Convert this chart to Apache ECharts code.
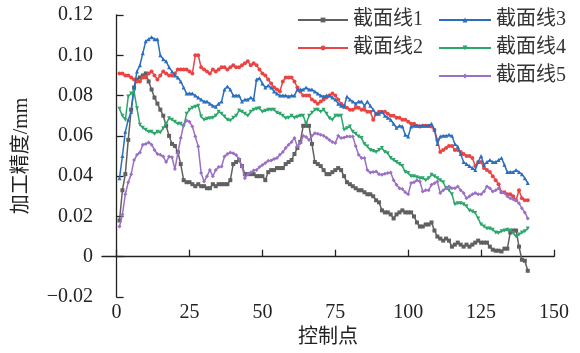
<!DOCTYPE html>
<html lang="zh">
	<head>
		<meta charset="UTF-8"/>
		<title></title>
		<script src="https://cdn.jsdelivr.net/npm/echarts@6/dist/echarts.min.js"></script>
		<style>
			html, body { margin: 0; padding: 0; background: #fff; }
		</style>
	</head>
	<body>
		<div id="main" style="width: 580px;height: 353px;"></div>
		<script type="text/javascript">
			// 数据：控制点 1..141 的加工精度 (mm)
			var xTicks = [0, 25, 50, 75, 100, 125, 150];
			var names = ['截面线1', '截面线2', '截面线3', '截面线4', '截面线5'];

			var line1 = [
				0.018, 0.033, 0.041, 0.058, 0.073, 0.084, 0.088, 0.089, 0.090, 0.091,
				0.087, 0.083, 0.079, 0.076, 0.073, 0.070, 0.065, 0.060, 0.056, 0.055,
				0.052, 0.046, 0.038, 0.037, 0.037, 0.036, 0.035, 0.036, 0.035, 0.035,
				0.034, 0.034, 0.036, 0.035, 0.036, 0.036, 0.036, 0.036, 0.038, 0.046,
				0.047, 0.048, 0.045, 0.041, 0.041, 0.041, 0.041, 0.040, 0.040, 0.040,
				0.038, 0.042, 0.043, 0.043, 0.044, 0.044, 0.044, 0.046, 0.047, 0.048,
				0.051, 0.054, 0.057, 0.065, 0.065, 0.065, 0.056, 0.047, 0.046, 0.045,
				0.043, 0.041, 0.041, 0.042, 0.043, 0.044, 0.043, 0.040, 0.037, 0.036,
				0.035, 0.034, 0.033, 0.033, 0.032, 0.031, 0.031, 0.030, 0.028, 0.027,
				0.023, 0.022, 0.022, 0.021, 0.019, 0.021, 0.022, 0.023, 0.022, 0.022,
				0.022, 0.020, 0.017, 0.015, 0.015, 0.016, 0.016, 0.017, 0.013, 0.010,
				0.009, 0.008, 0.009, 0.008, 0.005, 0.006, 0.007, 0.006, 0.005, 0.006,
				0.005, 0.006, 0.007, 0.008, 0.007, 0.007, 0.007, 0.005, 0.0035, 0.003,
				0.003, 0.0026, 0.004, 0.004, 0.012, 0.013, 0.013, 0.005, -0.0015, -0.002,
				-0.007
			];
			var line2 = [
				0.091, 0.091, 0.090, 0.090, 0.089, 0.088, 0.087, 0.087, 0.089, 0.089,
				0.091, 0.092, 0.090, 0.088, 0.090, 0.092, 0.091, 0.090, 0.090, 0.091,
				0.093, 0.093, 0.093, 0.093, 0.092, 0.091, 0.100, 0.100, 0.094, 0.093,
				0.092, 0.091, 0.093, 0.092, 0.093, 0.094, 0.094, 0.093, 0.094, 0.095,
				0.094, 0.094, 0.095, 0.096, 0.097, 0.095, 0.096, 0.095, 0.093, 0.091,
				0.090, 0.088, 0.086, 0.084, 0.083, 0.082, 0.087, 0.089, 0.089, 0.089,
				0.087, 0.084, 0.082, 0.080, 0.080, 0.080, 0.078, 0.077, 0.076, 0.077,
				0.078, 0.079, 0.080, 0.081, 0.080, 0.078, 0.076, 0.075, 0.074, 0.073,
				0.073, 0.074, 0.074, 0.073, 0.073, 0.072, 0.072, 0.068, 0.071, 0.072,
				0.072, 0.072, 0.071, 0.070, 0.070, 0.069, 0.069, 0.068, 0.068, 0.067,
				0.066, 0.066, 0.065, 0.0646, 0.065, 0.065, 0.065, 0.0646, 0.063, 0.058,
				0.052, 0.053, 0.054, 0.055, 0.055, 0.053, 0.053, 0.052, 0.051, 0.050,
				0.050, 0.049, 0.045, 0.047, 0.047, 0.044, 0.043, 0.042, 0.040, 0.038,
				0.036, 0.032, 0.032, 0.031, 0.031, 0.030, 0.028, 0.033, 0.029, 0.028,
				0.028
			];
			var line3 = [
				0.039, 0.050, 0.062, 0.068, 0.072, 0.084, 0.092, 0.095, 0.101, 0.107,
				0.108, 0.109, 0.108, 0.108, 0.100, 0.098, 0.097, 0.094, 0.092, 0.090,
				0.089, 0.087, 0.084, 0.081, 0.081, 0.081, 0.080, 0.079, 0.078, 0.077,
				0.077, 0.076, 0.075, 0.0745, 0.076, 0.077, 0.083, 0.0845, 0.083, 0.080,
				0.080, 0.080, 0.077, 0.078, 0.078, 0.079, 0.078, 0.088, 0.0886, 0.086,
				0.084, 0.085, 0.084, 0.082, 0.081, 0.080, 0.080, 0.080, 0.0795, 0.080,
				0.080, 0.083, 0.083, 0.083, 0.084, 0.083, 0.083, 0.082, 0.081, 0.080,
				0.0795, 0.080, 0.080, 0.079, 0.078, 0.076, 0.075, 0.0745, 0.0795, 0.078,
				0.077, 0.076, 0.077, 0.077, 0.075, 0.077, 0.075, 0.073, 0.071, 0.071,
				0.072, 0.070, 0.069, 0.068, 0.066, 0.064, 0.065, 0.0646, 0.0605, 0.0597,
				0.0646, 0.065, 0.065, 0.065, 0.065, 0.065, 0.065, 0.066, 0.063, 0.056,
				0.0597, 0.060, 0.060, 0.0605, 0.060, 0.056, 0.0547, 0.051, 0.047, 0.046,
				0.045, 0.044, 0.043, 0.047, 0.050, 0.0456, 0.047, 0.048, 0.047, 0.047,
				0.048, 0.049, 0.0456, 0.042, 0.042, 0.042, 0.043, 0.042, 0.041, 0.039,
				0.0366
			];
			var line4 = [
				0.0734, 0.070, 0.068, 0.0795, 0.081, 0.082, 0.0737, 0.0655, 0.064, 0.063,
				0.062, 0.062, 0.061, 0.062, 0.0617, 0.0638, 0.066, 0.0688, 0.068, 0.067,
				0.066, 0.066, 0.0646, 0.071, 0.073, 0.074, 0.0745, 0.075, 0.0696, 0.068,
				0.0685, 0.0688, 0.069, 0.070, 0.072, 0.071, 0.0696, 0.068, 0.0676, 0.069,
				0.070, 0.0726, 0.072, 0.071, 0.070, 0.072, 0.073, 0.0735, 0.0737, 0.072,
				0.0725, 0.073, 0.073, 0.073, 0.0715, 0.071, 0.070, 0.0688, 0.069, 0.070,
				0.069, 0.0695, 0.070, 0.070, 0.066, 0.070, 0.0715, 0.073, 0.073, 0.072,
				0.073, 0.071, 0.0688, 0.068, 0.070, 0.070, 0.070, 0.063, 0.0638, 0.0646,
				0.062, 0.061, 0.0597, 0.0589, 0.056, 0.0547, 0.053, 0.0525, 0.052, 0.053,
				0.054, 0.052, 0.0514, 0.049, 0.048, 0.047, 0.046, 0.045, 0.042, 0.0415,
				0.040, 0.040, 0.0395, 0.039, 0.039, 0.038, 0.039, 0.0407, 0.040, 0.039,
				0.038, 0.037, 0.034, 0.033, 0.031, 0.026, 0.0265, 0.0266, 0.026, 0.025,
				0.023, 0.0225, 0.0217, 0.019, 0.016, 0.015, 0.014, 0.014, 0.0134, 0.012,
				0.0118, 0.0126, 0.013, 0.0134, 0.013, 0.0118, 0.010, 0.011, 0.012, 0.0126,
				0.014
			];
			var line5 = [
				0.015, 0.021, 0.031, 0.037, 0.041, 0.048, 0.0506, 0.0517, 0.0556, 0.056,
				0.0567, 0.0556, 0.053, 0.051, 0.0506, 0.0497, 0.047, 0.0497, 0.0494, 0.0435,
				0.0514, 0.0589, 0.0655, 0.0676, 0.067, 0.0646, 0.0597, 0.0547, 0.0415, 0.0373,
				0.040, 0.043, 0.040, 0.043, 0.0445, 0.0448, 0.0497, 0.051, 0.0517, 0.0514,
				0.0505, 0.0485, 0.0448, 0.039, 0.041, 0.0418, 0.0428, 0.043, 0.0445, 0.0455,
				0.0465, 0.0476, 0.0478, 0.0485, 0.049, 0.0506, 0.052, 0.054, 0.0556, 0.057,
				0.0589, 0.0547, 0.0564, 0.060, 0.0594, 0.058, 0.060, 0.0613, 0.061, 0.0605,
				0.060, 0.059, 0.058, 0.057, 0.0564, 0.060, 0.0589, 0.0592, 0.0597, 0.0597,
				0.0597, 0.055, 0.0506, 0.049, 0.049, 0.043, 0.0418, 0.042, 0.0423, 0.041,
				0.0407, 0.0412, 0.0415, 0.0418, 0.038, 0.0357, 0.034, 0.0336, 0.032, 0.031,
				0.0366, 0.037, 0.038, 0.0373, 0.0324, 0.033, 0.033, 0.0357, 0.0365, 0.0373,
				0.0316, 0.033, 0.034, 0.0349, 0.034, 0.034, 0.0349, 0.033, 0.0316, 0.029,
				0.030, 0.031, 0.0316, 0.031, 0.031, 0.0324, 0.0349, 0.034, 0.0324, 0.033,
				0.034, 0.032, 0.0316, 0.030, 0.029, 0.0285, 0.028, 0.0266, 0.024, 0.022,
				0.019
			];

			var lines = [line1, line2, line3, line4, line5];
			var colors = ['#606060', '#e84545', '#2a6ebd', '#2ca66a', '#9a70c4'];
			var symbols = ['rect', 'circle', 'triangle', 'triangle', 'diamond'];
			var rotates = [0, 0, 0, 180, 0];

			var fontFamily = "'Liberation Serif', 'Times New Roman', 'Noto Sans CJK SC', serif";

			var myChart = echarts.init(document.getElementById('main'));

			var series = lines.map(function (arr, k) {
				return {
					name: names[k],
					type: 'line',
					data: arr.map(function (v, i) { return [i + 1, v]; }),
					symbol: symbols[k],
					symbolRotate: rotates[k],
					symbolSize: 4,
					showSymbol: true,
					lineStyle: { width: 1.5, color: colors[k] },
					itemStyle: { color: colors[k] },
					z: 2 + k
				};
			});

			var legendText = { fontSize: 20, color: '#333', fontFamily: fontFamily };

			var option = {
				backgroundColor: '#fff',
				animation: false,
				legend: [
					{
						data: ['截面线1', '截面线2'],
						orient: 'vertical',
						left: 292,
						top: 5,
						itemWidth: 50,
						itemHeight: 6,
						itemGap: 8,
						textStyle: legendText
					},
					{
						data: ['截面线3', '截面线4', '截面线5'],
						orient: 'vertical',
						left: 433,
						top: 5,
						itemWidth: 52,
						itemHeight: 6,
						itemGap: 8,
						textStyle: legendText
					}
				],
				grid: { left: 102, right: 26, top: 15, bottom: 56, containLabel: false },
				xAxis: {
					type: 'value',
					min: -5,
					max: 150,
					name: '控制点',
					nameLocation: 'middle',
					nameGap: 24,
					nameTextStyle: { fontSize: 20, color: '#222', fontFamily: fontFamily },
					axisLine: { lineStyle: { color: '#222', width: 1.3 } },
					axisTick: { inside: true, length: 7, customValues: xTicks, lineStyle: { color: '#222', width: 1.3 } },
					axisLabel: { customValues: xTicks, fontSize: 20, color: '#222', margin: 6, fontFamily: fontFamily },
					splitLine: { show: false }
				},
				yAxis: {
					type: 'value',
					min: -0.02,
					max: 0.12,
					interval: 0.02,
					name: '加工精度/mm',
					nameLocation: 'middle',
					nameGap: 70,
					nameTextStyle: { fontSize: 20, color: '#222', fontFamily: fontFamily },
					axisLine: { show: true, lineStyle: { color: '#222', width: 1.3 } },
					axisTick: { show: true, inside: true, length: 7, lineStyle: { color: '#222', width: 1.3 } },
					axisLabel: {
						fontSize: 20,
						color: '#222',
						margin: 9,
						fontFamily: fontFamily,
						formatter: function (v) {
							if (Math.abs(v) < 1e-9) return '0';
							if (v < 0) return '\u2212' + Math.abs(v).toFixed(2);
							return v.toFixed(2);
						}
					},
					splitLine: { show: false }
				},
				series: series
			};

			myChart.setOption(option);
		</script>
	</body>
</html>
